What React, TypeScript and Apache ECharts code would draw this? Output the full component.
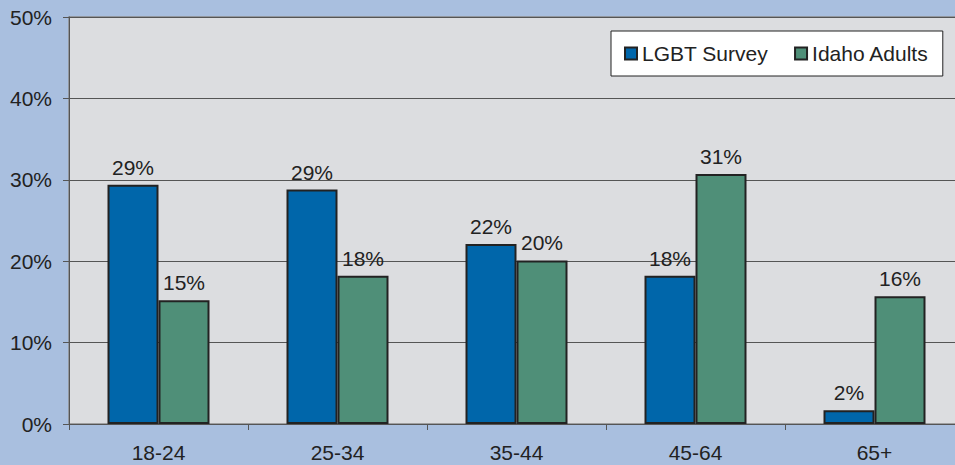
import React, { useEffect, useRef } from "react";
import * as echarts from "echarts";

const categories = ["18-24", "25-34", "35-44", "45-64", "65+"];
const lgbtSurvey = [29.4, 28.8, 22.1, 18.2, 1.7];
const idahoAdults = [15.2, 18.2, 20.1, 30.7, 15.7];
const seriesNames = ["LGBT Survey", "Idaho Adults"];

const FONT = "'Liberation Sans', Arial, sans-serif";

export default function App() {
  const ref = useRef<HTMLDivElement>(null);
  useEffect(() => {
    document.body.style.margin = "0";
    document.body.style.overflow = "hidden";
    document.documentElement.style.overflow = "hidden";
    const chart = echarts.init(ref.current!, null, { renderer: "svg" });
    const labelCfg = {
      show: true,
      position: "top",
      distance: 7,
      fontSize: 21,
      fontFamily: FONT,
      color: "#222",
      formatter: (p: any) => Math.round(p.value) + "%",
    };
    chart.setOption({
      animation: false,
      backgroundColor: "#a9bfdf",
      textStyle: { fontFamily: FONT },
      grid: {
        left: 69,
        top: 17,
        right: 11,
        bottom: 41,
        show: true,
        backgroundColor: "#dcdde0",
        borderColor: "#8a8a8a",
        borderWidth: 1.5,
      },
      legend: {
        data: seriesNames,
        left: 611,
        top: 31,
        orient: "horizontal",
        backgroundColor: "#ffffff",
        borderColor: "#222",
        borderWidth: 1,
        padding: [12, 14, 12, 13],
        itemGap: 26,
        itemWidth: 12,
        itemHeight: 12,
        icon: "rect",
        textStyle: { fontSize: 21, color: "#222", fontFamily: FONT },
      },
      xAxis: {
        type: "category",
        data: categories,
        axisLine: { show: true, lineStyle: { color: "#555", width: 1 } },
        axisTick: { show: true, alignWithLabel: false, length: 6, lineStyle: { color: "#555" } },
        axisLabel: { fontSize: 21, color: "#222", margin: 18, fontFamily: FONT },
      },
      yAxis: {
        type: "value",
        min: 0,
        max: 50,
        interval: 10,
        axisLine: { show: true, lineStyle: { color: "#555", width: 1 } },
        axisTick: { show: true, length: 6, lineStyle: { color: "#555" } },
        axisLabel: { formatter: "{value}%", fontSize: 21, color: "#222", margin: 17, fontFamily: FONT },
        splitLine: { show: true, lineStyle: { color: "#555", width: 1 } },
      },
      series: [
        {
          name: seriesNames[0],
          type: "bar",
          data: lgbtSurvey,
          barWidth: 51,
          barGap: "0%",
          itemStyle: { color: "#0066aa", borderColor: "#222", borderWidth: 2 },
          label: labelCfg,
        },
        {
          name: seriesNames[1],
          type: "bar",
          data: idahoAdults,
          barWidth: 51,
          barGap: "0%",
          itemStyle: { color: "#4f8f78", borderColor: "#222", borderWidth: 2 },
          label: labelCfg,
        },
      ],
    });
    return () => chart.dispose();
  }, []);
  return <div ref={ref} style={{ position: "absolute", left: 0, top: 0, width: 975, height: 465 }} />;
}
